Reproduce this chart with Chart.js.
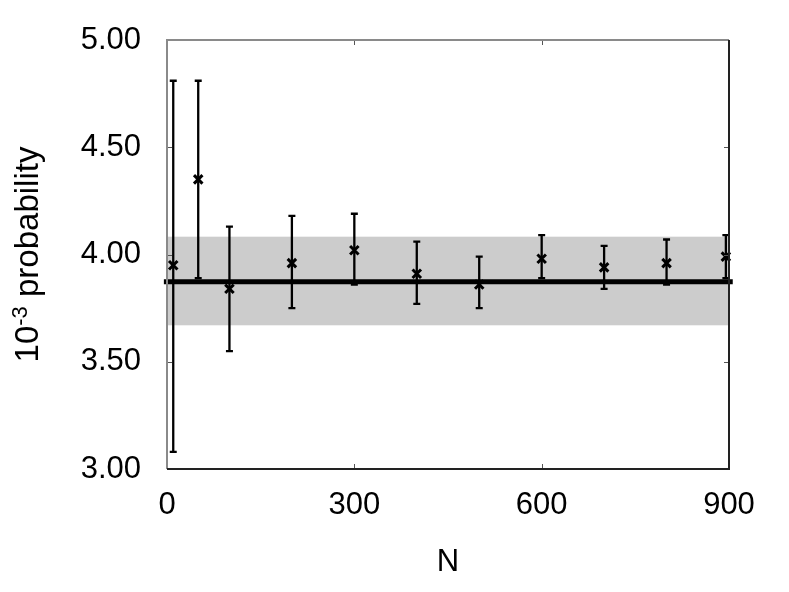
<!DOCTYPE html>
<html>
<head>
<meta charset="utf-8">
<script src="https://cdn.jsdelivr.net/npm/chart.js@4.4.1/dist/chart.umd.min.js"></script>
<style>
  html, body { margin: 0; padding: 0; background: #fff; }
  #wrap { width: 789px; height: 592px; position: relative; }
</style>
</head>
<body>
<div id="wrap"><canvas id="myChart"></canvas></div>
<script>
const sizes = [10, 50, 100, 200, 300, 400, 500, 600, 700, 800, 895];
const prob = [3.95, 4.35, 3.84, 3.96, 4.02, 3.91, 3.86, 3.98, 3.94, 3.96, 3.99];
const errHigh = [4.81, 4.81, 4.13, 4.18, 4.19, 4.06, 3.99, 4.09, 4.04, 4.07, 4.09];
const errLow = [3.08, 3.89, 3.55, 3.75, 3.86, 3.77, 3.75, 3.89, 3.84, 3.86, 3.89];
const meanValue = 3.873;
const bandLow = 3.67;
const bandHigh = 4.083;
const xTicks = [0, 300, 600, 900];
const yTicks = [3.0, 3.5, 4.0, 4.5, 5.0];

const FONT = "'Liberation Sans', Arial, Helvetica, sans-serif";

// band + error bars behind the marks, frame and titles on top
const extras = {
    id: 'extras',
    beforeDatasetsDraw(chart) {
        const { ctx, chartArea: a, scales: { x, y } } = chart;
        ctx.save();
        ctx.fillStyle = '#cccccc';
        const t = y.getPixelForValue(bandHigh), b = y.getPixelForValue(bandLow);
        ctx.fillRect(a.left, t, a.right - a.left, b - t);

        ctx.strokeStyle = '#000';
        ctx.lineWidth = 2.3;
        sizes.forEach((n, i) => {
            const px = x.getPixelForValue(n);
            const hi = y.getPixelForValue(errHigh[i]);
            const lo = y.getPixelForValue(errLow[i]);
            ctx.beginPath();
            ctx.moveTo(px, hi); ctx.lineTo(px, lo);
            ctx.moveTo(px - 3.5, hi); ctx.lineTo(px + 3.5, hi);
            ctx.moveTo(px - 3.5, lo); ctx.lineTo(px + 3.5, lo);
            ctx.stroke();
        });
        ctx.restore();
    },
    afterDraw(chart) {
        const { ctx, chartArea: a, scales: { x, y } } = chart;
        ctx.save();
        // inner ticks
        ctx.strokeStyle = '#555';
        ctx.lineWidth = 1;
        ctx.beginPath();
        xTicks.forEach(v => {
            const px = Math.round(x.getPixelForValue(v)) + 0.5;
            ctx.moveTo(px, a.bottom); ctx.lineTo(px, a.bottom - 5);
            ctx.moveTo(px, a.top); ctx.lineTo(px, a.top + 5);
        });
        yTicks.forEach(v => {
            const py = Math.round(y.getPixelForValue(v)) + 0.5;
            ctx.moveTo(a.left, py); ctx.lineTo(a.left + 5, py);
            ctx.moveTo(a.right, py); ctx.lineTo(a.right - 5, py);
        });
        ctx.stroke();
        // frame: top/left grey, bottom/right dark
        ctx.lineWidth = 2;
        ctx.strokeStyle = '#8a8a8a';
        ctx.beginPath();
        ctx.moveTo(a.left, a.bottom); ctx.lineTo(a.left, a.top); ctx.lineTo(a.right, a.top);
        ctx.stroke();
        ctx.strokeStyle = '#222';
        ctx.beginPath();
        ctx.moveTo(a.left, a.bottom); ctx.lineTo(a.right, a.bottom); ctx.lineTo(a.right, a.top);
        ctx.stroke();

        // axis titles
        ctx.fillStyle = '#000';
        ctx.font = '31px ' + FONT;
        ctx.textAlign = 'center';
        ctx.textBaseline = 'middle';
        ctx.fillText('N', (a.left + a.right) / 2, 562);

        ctx.translate(38, (a.top + a.bottom) / 2);
        ctx.rotate(-Math.PI / 2);
        ctx.textBaseline = 'alphabetic';
        ctx.textAlign = 'left';
        const big = '33px ' + FONT, small = '22px ' + FONT;
        ctx.font = big;
        const w1 = ctx.measureText('10').width;
        const w3 = ctx.measureText(' probability').width;
        ctx.font = small;
        const w2 = ctx.measureText('-3').width;
        let cx = -(w1 + w2 + w3) / 2;
        ctx.font = big;
        ctx.fillText('10', cx, 0); cx += w1;
        ctx.font = small;
        ctx.fillText('-3', cx, -11); cx += w2;
        ctx.font = big;
        ctx.fillText(' probability', cx, 0);
        ctx.restore();
    }
};

new Chart(document.getElementById('myChart'), {
    type: 'scatter',
    data: {
        datasets: [
            {
                type: 'line',
                label: 'mean',
                data: [{ x: -5, y: meanValue }, { x: 906, y: meanValue }],
                borderColor: '#000',
                borderWidth: 5,
                pointRadius: 0,
                clip: 8
            },
            {
                label: 'probability',
                data: sizes.map((n, i) => ({ x: n, y: prob[i] })),
                pointStyle: 'crossRot',
                pointRadius: 6,
                borderColor: '#000',
                borderWidth: 3,
                clip: 8
            }
        ]
    },
    options: {
        responsive: true,
        maintainAspectRatio: false,
        animation: false,
        layout: { padding: { top: 40, right: 60, left: 0, bottom: 0 } },
        plugins: { legend: { display: false }, tooltip: { enabled: false } },
        scales: {
            x: {
                type: 'linear',
                min: 0,
                max: 900,
                afterFit: s => { s.height = 123; },
                afterBuildTicks: s => { s.ticks = xTicks.map(v => ({ value: v })); },
                grid: { display: false, drawTicks: false },
                border: { display: false },
                ticks: {
                    color: '#000',
                    padding: 18,
                    maxRotation: 0,
                    font: { family: FONT, size: 31 }
                }
            },
            y: {
                min: 3,
                max: 5,
                afterFit: s => { s.width = 167; s.paddingTop = 0; s.paddingBottom = 0; },
                afterBuildTicks: s => { s.ticks = yTicks.map(v => ({ value: v })); },
                grid: { display: false, drawTicks: false },
                border: { display: false },
                ticks: {
                    color: '#000',
                    padding: 26,
                    font: { family: FONT, size: 31 },
                    callback: v => Number(v).toFixed(2)
                }
            }
        }
    },
    plugins: [extras]
});
</script>
</body>
</html>
